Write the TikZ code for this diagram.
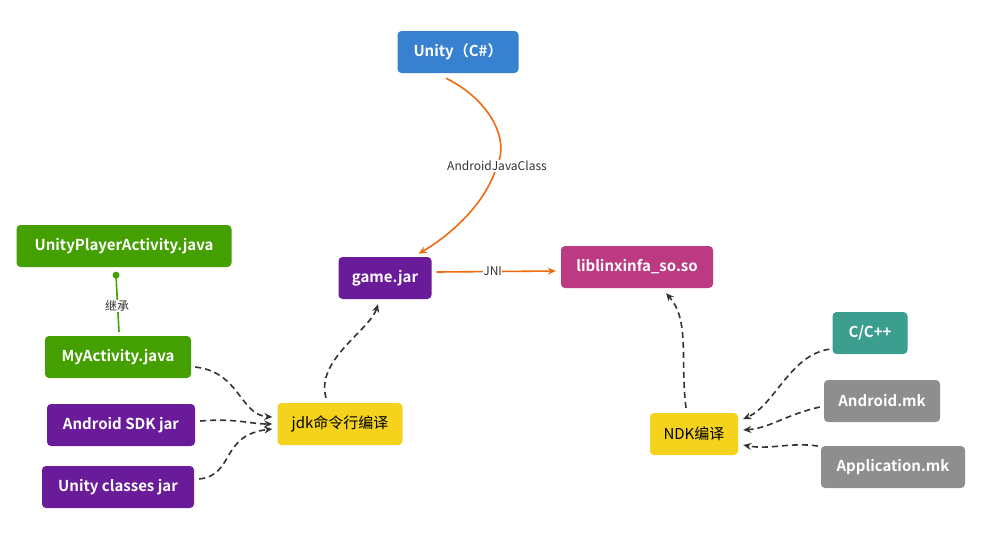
\documentclass[tikz,border=0pt]{standalone}
\usepackage{fontspec}
\setmainfont{Noto Sans CJK SC}[BoldFont={* Bold}]
\usetikzlibrary{calc,arrows.meta}
\begin{document}
\begin{tikzpicture}[x=1pt,y=-1pt,
  box/.style={rounded corners=4pt,minimum height=42pt,inner sep=0pt,text=white,font=\bfseries\fontsize{15}{18}\selectfont},
  ybox/.style={box,fill=yellowc,text=black,font=\fontsize{15}{18}\selectfont},
  dsh/.style={draw=darkc,line width=1.6pt,dash pattern=on 6pt off 4pt,-{Stealth[length=8pt,width=7pt]}},
  org/.style={draw=orangec,line width=1.6pt,-{Stealth[length=8pt,width=7pt]}},
  lbl/.style={fill=white,inner sep=1pt,text=darkc,font=\fontsize{12}{14}\selectfont}]
\definecolor{bluec}{HTML}{3880D0}
\definecolor{purplec}{HTML}{6A1B9A}
\definecolor{pinkc}{HTML}{BC3A82}
\definecolor{greenc}{HTML}{43A000}
\definecolor{yellowc}{HTML}{F5D31C}
\definecolor{tealc}{HTML}{3B9E8E}
\definecolor{grayc}{HTML}{8E8E8E}
\definecolor{orangec}{HTML}{EE6A10}
\definecolor{darkc}{HTML}{333333}
\useasboundingbox (0,0) rectangle (990,542);
\node[box,fill=bluec,minimum width=121pt] (unity) at (458,52) {Unity（C\#）};
\node[box,fill=purplec,minimum width=93pt] (game) at (385,278) {game.jar};
\node[box,fill=pinkc,minimum width=152pt] (lib) at (637,267) {liblinxinfa\_so.so};
\node[box,fill=greenc,minimum width=215pt] (upa) at (124,246) {UnityPlayerActivity.java};
\node[box,fill=greenc,minimum width=146pt] (my) at (118,357) {MyActivity.java};
\node[box,fill=purplec,minimum width=148pt] (sdk) at (121,425) {Android SDK jar};
\node[box,fill=purplec,minimum width=152pt] (ucj) at (118,487) {Unity classes jar};
\node[ybox,minimum width=125pt] (jdk) at (340,424) {jdk命令行编译};
\node[ybox,minimum width=88pt] (ndk) at (694,434) {NDK编译};
\node[box,fill=tealc,minimum width=75pt] (cpp) at (870,333) {C/C++};
\node[box,fill=grayc,minimum width=116pt] (amk) at (882,401) {Android.mk};
\node[box,fill=grayc,minimum width=144pt] (appmk) at (893,467) {Application.mk};
% orange
\draw[org] ($(unity.south)+(-12,5)$) .. controls (490,100) and (510,140) .. (497,166)
  .. controls (485,205) and (450,235) .. ($(game.north east)+(-13,-3)$);
\node[lbl] (ajc) at (497,166) {AndroidJavaClass};
\draw[org] ($(game.east)+(5,-6)$) -- ($(lib.west)+(-5,4)$) node[lbl,pos=0.47,fill=white,inner sep=0.5pt] (jni) {JNI};
% inheritance
\draw[greenc,line width=1.6pt] ($(my.north)+(1,-4)$) -- ($(upa.south)+(-8,8)$);
\fill[greenc] ($(upa.south)+(-8,8)$) circle (3.5pt);
\node[lbl] (inh) at (117,306) {继承};
% dashed
\draw[dsh] ($(my.east)+(4,10)$) .. controls (240,372) and (240,415) .. ($(jdk.west)+(-5,-7)$);
\draw[dsh] ($(sdk.east)+(5,-4)$) .. controls (235,418) and (250,424) .. ($(jdk.west)+(-5,0)$);
\draw[dsh] ($(ucj.east)+(5,-8)$) .. controls (235,475) and (220,435) .. ($(jdk.west)+(-5,5)$);
\draw[dsh] ($(jdk.north)+(-14,-5)$) .. controls (315,360) and (370,330) .. ($(game.south)+(-7,5)$);
\draw[dsh] ($(ndk.north)+(-8,-5)$) .. controls (680,360) and (690,320) .. ($(lib.south)+(29,5)$);
\draw[dsh] ($(cpp.south west)+(-3,-5)$) .. controls (790,355) and (775,405) .. ($(ndk.east)+(5,-15)$);
\draw[dsh] ($(amk.west)+(-4,6)$) .. controls (785,415) and (770,428) .. ($(ndk.east)+(5,-4)$);
\draw[dsh] ($(appmk.west)+(-3,-21)$) .. controls (790,442) and (770,450) .. ($(ndk.east)+(5,11)$);
\end{tikzpicture}
\end{document}
